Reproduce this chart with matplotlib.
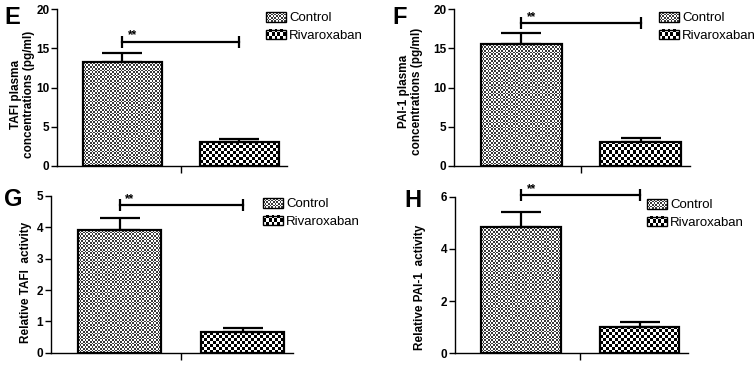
import numpy as np
import matplotlib
matplotlib.use("Agg")
import matplotlib.pyplot as plt
from matplotlib.colors import ListedColormap
from matplotlib.patches import Patch, Rectangle
from matplotlib.legend_handler import HandlerBase
from matplotlib.image import BboxImage
from matplotlib.transforms import Bbox, TransformedBbox

plt.rcParams["font.family"] = ["Liberation Sans", "DejaVu Sans"]

# =====================================================
#   data
# =====================================================

groups = ["Control", "Rivaroxaban"]
panel_letters = ["E", "F", "G", "H"]

ylabels = [
    "TAFI plasma\nconcentrations (pg/ml)",
    "PAI-1 plasma\nconcentrations (pg/ml)",
    "Relative TAFI  activity",
    "Relative PAI-1  activity",
]

tafi_conc = [13.3, 3.0]
tafi_conc_err = [1.1, 0.4]
pai_conc = [15.6, 3.1]
pai_conc_err = [1.4, 0.45]
tafi_act = [3.9, 0.65]
tafi_act_err = [0.4, 0.15]
pai_act = [4.85, 1.0]
pai_act_err = [0.55, 0.2]

sig_levels = [15.8, 18.2, 4.7, 6.05]
sig_text = "**"

ymax = [20, 20, 5, 6]
yticks = [[0, 5, 10, 15, 20], [0, 5, 10, 15, 20], [0, 1, 2, 3, 4, 5], [0, 2, 4, 6]]

values = [tafi_conc, pai_conc, tafi_act, pai_act]
errors = [tafi_conc_err, pai_conc_err, tafi_act_err, pai_act_err]

# =====================================================
#   styling
# =====================================================

W, H, DPI = 756, 365, 100
BAR_W = 0.675

# checker textures: (cell size in px, light colour, dark colour)
textures = [(1.7, "#ffffff", "#3a3a3a"), (3.0, "#ffffff", "#000000")]

# axes rectangles in pixels: left, top, right, bottom
axes_px = [
    (57, 9.3, 287, 166),
    (454, 9.3, 690, 166),
    (51, 196, 293, 352.7),
    (455, 196.7, 688, 353.3),
]
letter_px = [(4, 24), (392, 24), (4, 206), (404, 207)]
ylabel_pos = [(-0.096, 0.455), (-0.131, 0.475), (-0.079, 0.45), (-0.124, 0.42)]
legend_px = [(266, 12), (659, 12), (263, 198), (647, 199)]


def checker(nx, ny):
    iy, ix = np.indices((max(ny, 1), max(nx, 1)))
    return (ix + iy) % 2


class CheckerHandler(HandlerBase):
    def __init__(self, cell, light, dark):
        super().__init__()
        self.cell = cell
        self.cmap = ListedColormap([light, dark])

    def create_artists(self, legend, orig_handle, xdescent, ydescent,
                       width, height, fontsize, trans):
        bb = TransformedBbox(Bbox.from_bounds(-xdescent, -ydescent, width, height), trans)
        img = BboxImage(bb, cmap=self.cmap, interpolation="nearest", origin="lower")
        nx = int(round(width * DPI / 72 / self.cell))
        ny = int(round(height * DPI / 72 / self.cell))
        img.set_data(checker(nx, ny).astype(float))
        img.set_clim(0, 1)
        rect = Rectangle((-xdescent, -ydescent), width, height, fc="none",
                         ec="black", lw=1.0, transform=trans)
        return [img, rect]


fig = plt.figure(figsize=(W / DPI, H / DPI), dpi=DPI)

x = np.arange(len(groups))

for k in range(4):
    l, t, r, b = axes_px[k]
    ax = fig.add_axes([l / W, 1 - b / H, (r - l) / W, (b - t) / H])

    xlim = (-0.56, 1.41)
    ylim = (0, ymax[k])

    bars = ax.bar(x, values[k], BAR_W, color="none", edgecolor="black",
                  linewidth=1.6, zorder=3)

    # fill each bar with a checker texture
    px_x = (r - l) / (xlim[1] - xlim[0])
    px_y = (b - t) / (ylim[1] - ylim[0])
    for i, p in enumerate(bars.patches):
        cell, light, dark = textures[i]
        x0, w, hgt = p.get_x(), p.get_width(), p.get_height()
        nx = int(round(w * px_x / cell))
        ny = int(round(hgt * px_y / cell))
        ax.imshow(checker(nx, ny), extent=(x0, x0 + w, 0, hgt), origin="lower",
                  cmap=ListedColormap([light, dark]), interpolation="nearest",
                  aspect="auto", zorder=2)

    ax.errorbar(x, values[k], yerr=[np.zeros(len(x)), errors[k]], fmt="none",
                ecolor="black", elinewidth=1.6, capsize=14.5, capthick=1.6,
                zorder=4)

    # significance bracket
    ax.plot(x, [sig_levels[k]] * 2, color="black", lw=1.6, clip_on=False,
            marker="|", markersize=8, markeredgewidth=1.6, zorder=5)
    ax.annotate(sig_text, (x[0], sig_levels[k]), xytext=(4, 0.5),
                textcoords="offset points", ha="left", va="bottom",
                fontsize=8.5, fontweight="bold", annotation_clip=False)

    ax.set_xlim(*xlim)
    ax.set_ylim(*ylim)
    ax.set_yticks(yticks[k])
    ax.set_xticks([0.5])
    ax.set_xticklabels([""])
    for s in ["top", "right"]:
        ax.spines[s].set_visible(False)
    for s in ["left", "bottom"]:
        ax.spines[s].set_linewidth(1.0)
    ax.tick_params(axis="y", direction="out", length=4, width=1.0,
                   labelsize=8.5, pad=1.5)
    ax.tick_params(axis="x", direction="out", length=5, width=1.0)
    for lab in ax.get_yticklabels():
        lab.set_fontweight("bold")

    ax.set_ylabel(ylabels[k], fontsize=8.5, fontweight="bold",
                  linespacing=1.1)
    ax.yaxis.set_label_coords(*ylabel_pos[k])

    # legend
    handles = [Patch(label=g) for g in groups]
    hmap = {h: CheckerHandler(*textures[i]) for i, h in enumerate(handles)}
    lx, ly = legend_px[k]
    fig.legend(handles=handles, handler_map=hmap, loc="upper left",
               bbox_to_anchor=(lx / W, 1 - ly / H), frameon=False,
               fontsize=9.5, handlelength=1.5, handleheight=0.75,
               handletextpad=0.25, labelspacing=0.4, borderpad=0,
               borderaxespad=0)

    # panel letter
    px, py = letter_px[k]
    fig.text(px / W, 1 - py / H, panel_letters[k], fontsize=17,
             fontweight="bold", ha="left", va="baseline")

fig.savefig("out.png", dpi=DPI)
